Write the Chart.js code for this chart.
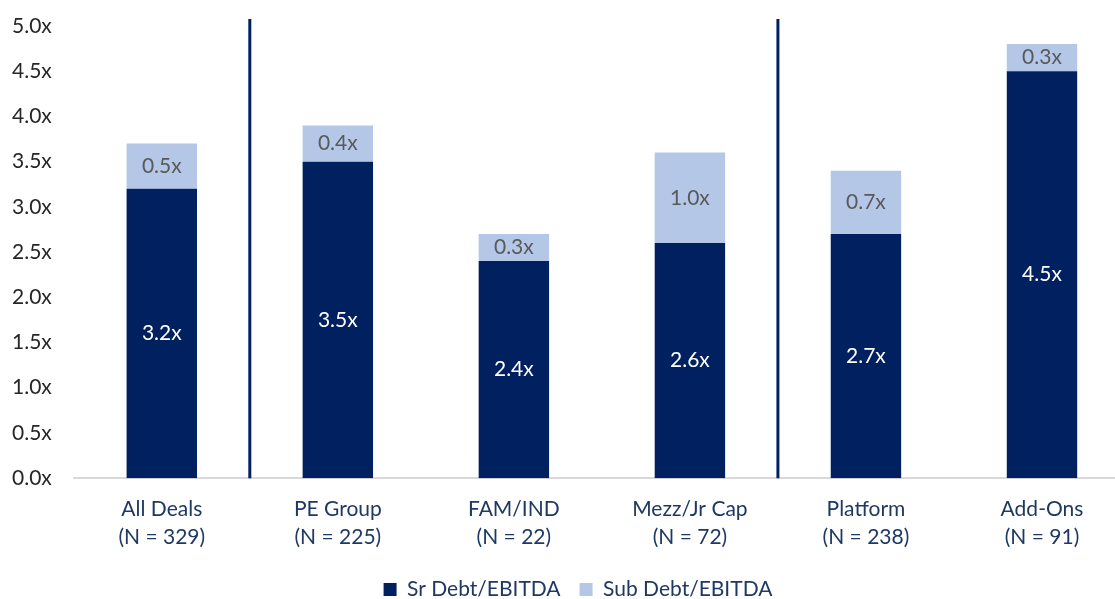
<!DOCTYPE html>
<html>
<head>
<meta charset="utf-8">
<script src="https://cdn.jsdelivr.net/npm/chart.js@4.4.1/dist/chart.umd.min.js"></script>
<style>
    html, body { margin: 0; padding: 0; background: #fff; overflow: hidden; height: 599px; }
    #wrap { position: relative; left: -2px; top: -7px; width: 1132px; height: 617px; }
</style>
</head>
<body>
<div id="wrap"><canvas id="leverageChart"></canvas></div>
<script>
const categories = [
    ['All Deals', '(N = 329)'],
    ['PE Group', '(N = 225)'],
    ['FAM/IND', '(N = 22)'],
    ['Mezz/Jr Cap', '(N = 72)'],
    ['Platform', '(N = 238)'],
    ['Add-Ons', '(N = 91)'],
];
const srDebt = [3.2, 3.5, 2.4, 2.6, 2.7, 4.5];
const subDebt = [0.5, 0.4, 0.3, 1.0, 0.7, 0.3];
const dividerAfter = [0, 3];

const NAVY = '#002060';
const LIGHT = '#b4c7e7';
const FONT = 'Lato, "Open Sans", sans-serif';
const SIZE = 21;

// vertical divider lines between category groups
const dividers = {
    id: 'dividers',
    afterDatasetsDraw(chart) {
        const { ctx, scales: { x, y } } = chart;
        ctx.save();
        ctx.strokeStyle = NAVY;
        ctx.lineWidth = 3;
        dividerAfter.forEach(i => {
            const px = (x.getPixelForValue(i) + x.getPixelForValue(i + 1)) / 2;
            ctx.beginPath();
            ctx.moveTo(px, y.top - 7);
            ctx.lineTo(px, y.bottom);
            ctx.stroke();
        });
        ctx.restore();
    }
};

// value labels centred inside each bar segment
const segmentLabels = {
    id: 'segmentLabels',
    afterDatasetsDraw(chart) {
        const { ctx } = chart;
        ctx.save();
        ctx.font = SIZE + 'px ' + FONT;
        ctx.textAlign = 'center';
        ctx.textBaseline = 'middle';
        chart.data.datasets.forEach((ds, di) => {
            const meta = chart.getDatasetMeta(di);
            meta.data.forEach((bar, i) => {
                const mid = (bar.y + bar.base) / 2;
                ctx.fillStyle = di === 0 ? '#ffffff' : '#595959';
                ctx.fillText(ds.data[i].toFixed(1) + 'x', bar.x, mid);
            });
        });
        ctx.restore();
    }
};

// nudge the legend so it sits a little right of the canvas centre
const legendShift = {
    id: 'legendShift',
    afterLayout(chart) {
        if (chart.legend) chart.legend.left += 28;
    }
};

new Chart(document.getElementById('leverageChart'), {
    type: 'bar',
    data: {
        labels: categories,
        datasets: [
            {
                label: 'Sr Debt/EBITDA',
                data: srDebt,
                backgroundColor: NAVY,
                barPercentage: 0.4,
                categoryPercentage: 1,
            },
            {
                label: 'Sub Debt/EBITDA',
                data: subDebt,
                backgroundColor: LIGHT,
                barPercentage: 0.4,
                categoryPercentage: 1,
            }
        ]
    },
    options: {
        responsive: true,
        maintainAspectRatio: false,
        animation: false,
        layout: { padding: { top: 33, left: 0, bottom: 0 } },
        scales: {
            x: {
                stacked: true,
                grid: { display: false },
                border: { color: '#d9d9d9', width: 2 },
                ticks: {
                    color: '#1f3864',
                    font: { family: FONT, size: SIZE, lineHeight: 1.33 },
                    padding: 9,
                    maxRotation: 0,
                    autoSkip: false,
                }
            },
            y: {
                stacked: true,
                min: 0,
                max: 5,
                grid: { display: false },
                border: { display: false },
                ticks: {
                    stepSize: 0.5,
                    color: '#262626',
                    padding: 14,
                    font: { family: FONT, size: SIZE },
                    callback: v => v.toFixed(1) + 'x',
                }
            }
        },
        plugins: {
            tooltip: { enabled: false },
            legend: {
                position: 'bottom',
                labels: {
                    color: '#1f3864',
                    font: { family: FONT, size: SIZE },
                    boxWidth: 13,
                    boxHeight: 13,
                    padding: 19,
                }
            }
        }
    },
    plugins: [dividers, segmentLabels, legendShift]
});
</script>
</body>
</html>
